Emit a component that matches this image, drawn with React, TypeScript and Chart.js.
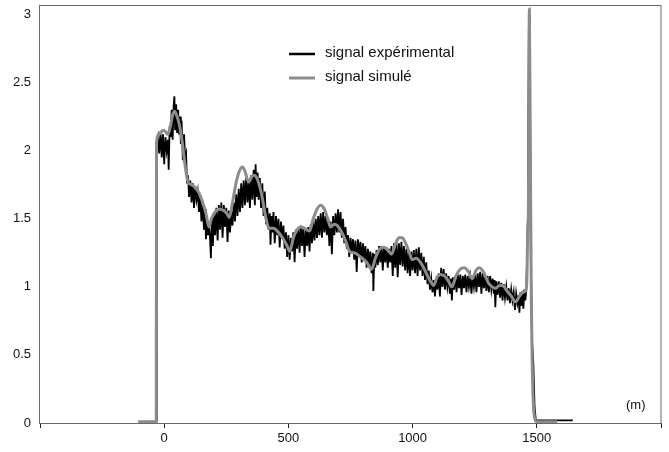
import React, { useEffect, useRef } from "react";
import { Chart, registerables } from "chart.js";

Chart.register(...registerables);

const xTicks = [-500, 0, 500, 1000, 1500, 2000];
const xLabeled = [0, 500, 1000, 1500];
const yTicks = [0, 0.5, 1, 1.5, 2, 2.5, 3];
const seriesNames = ["signal expérimental", "signal simulé"];
const unitLabel = "(m)";

// experimental signal (noisy), [distance m, value]
const expSignal: [number, number][] = [
  [-40, 0.0], [-32, 0.02], [-30, 2.05], [-25, 2.1], [-20, 1.98], [-15, 2.14], [-10, 1.95], [-5, 2.12],
  [0, 1.9], [5, 2.1], [10, 2.0], [15, 2.08], [18, 1.86], [22, 2.18], [26, 2.1], [30, 2.3],
  [34, 2.08], [38, 2.33], [41, 2.4], [44, 2.15], [48, 2.34], [52, 2.13], [56, 2.3], [60, 2.12],
  [64, 2.25], [67, 2.05], [70, 2.22], [75, 1.93], [80, 2.12], [84, 1.95], [88, 1.98], [92, 1.76],
  [96, 1.82], [100, 1.66], [105, 1.78], [110, 1.62], [115, 1.76], [120, 1.58], [125, 1.74], [130, 1.64],
  [135, 1.7], [140, 1.55], [145, 1.66], [150, 1.48], [155, 1.62], [160, 1.42], [165, 1.57], [168, 1.35],
  [172, 1.5], [176, 1.38], [180, 1.46], [185, 1.34], [188, 1.21], [192, 1.5], [196, 1.3], [200, 1.55],
  [205, 1.38], [210, 1.58], [215, 1.34], [220, 1.6], [225, 1.42], [230, 1.62], [235, 1.36], [240, 1.6],
  [245, 1.44], [250, 1.58], [255, 1.33], [260, 1.56], [265, 1.4], [270, 1.56], [275, 1.45], [280, 1.62],
  [285, 1.48], [290, 1.68], [295, 1.52], [300, 1.72], [305, 1.55], [310, 1.76], [315, 1.58], [320, 1.78],
  [325, 1.6], [330, 1.8], [335, 1.62], [340, 1.78], [345, 1.58], [350, 1.82], [355, 1.64], [360, 1.86],
  [365, 1.6], [368, 1.9], [372, 1.66], [376, 1.84], [380, 1.64], [385, 1.8], [390, 1.58], [395, 1.76],
  [400, 1.52], [405, 1.7], [410, 1.46], [415, 1.58], [420, 1.42], [425, 1.54], [428, 1.31], [432, 1.52],
  [436, 1.4], [440, 1.55], [445, 1.32], [450, 1.52], [455, 1.38], [460, 1.5], [465, 1.29], [470, 1.48],
  [475, 1.36], [480, 1.45], [485, 1.28], [490, 1.4], [495, 1.22], [500, 1.38], [505, 1.2], [510, 1.36],
  [515, 1.26], [520, 1.4], [525, 1.18], [530, 1.42], [535, 1.28], [540, 1.44], [545, 1.25], [550, 1.45],
  [555, 1.3], [560, 1.44], [565, 1.22], [570, 1.42], [575, 1.3], [580, 1.44], [585, 1.26], [590, 1.46],
  [595, 1.32], [600, 1.48], [605, 1.34], [610, 1.5], [615, 1.36], [620, 1.52], [625, 1.38], [630, 1.54],
  [635, 1.36], [640, 1.55], [645, 1.4], [650, 1.52], [655, 1.38], [660, 1.5], [665, 1.3], [670, 1.48],
  [675, 1.24], [680, 1.52], [685, 1.38], [690, 1.54], [695, 1.4], [700, 1.57], [705, 1.4], [710, 1.55],
  [715, 1.36], [720, 1.5], [725, 1.32], [730, 1.44], [735, 1.28], [740, 1.38], [745, 1.22], [750, 1.36],
  [755, 1.25], [760, 1.35], [765, 1.2], [770, 1.34], [775, 1.11], [780, 1.35], [785, 1.22], [790, 1.33],
  [795, 1.18], [800, 1.32], [805, 1.2], [810, 1.3], [815, 1.14], [820, 1.28], [825, 1.16], [830, 1.26],
  [835, 1.1], [840, 1.25], [842, 0.97], [846, 1.24], [850, 1.14], [855, 1.27], [860, 1.16], [865, 1.3],
  [870, 1.18], [875, 1.3], [880, 1.12], [885, 1.3], [890, 1.18], [895, 1.29], [900, 1.14], [905, 1.28],
  [910, 1.18], [915, 1.3], [920, 1.08], [925, 1.32], [930, 1.14], [935, 1.33], [940, 1.07], [945, 1.32],
  [950, 1.16], [955, 1.33], [960, 1.15], [965, 1.3], [970, 1.12], [975, 1.28], [980, 1.1], [985, 1.27],
  [990, 1.08], [995, 1.26], [1000, 1.12], [1005, 1.27], [1010, 1.1], [1015, 1.28], [1020, 1.08], [1025, 1.29],
  [1030, 1.12], [1035, 1.25], [1040, 1.08], [1045, 1.22], [1050, 1.05], [1055, 1.18], [1060, 1.02], [1065, 1.12],
  [1070, 0.98], [1075, 1.06], [1080, 0.96], [1085, 1.05], [1090, 0.93], [1095, 1.06], [1100, 0.98], [1105, 1.1],
  [1110, 0.93], [1115, 1.14], [1120, 1.0], [1125, 1.13], [1130, 0.98], [1135, 1.1], [1140, 1.0], [1145, 1.08],
  [1150, 0.95], [1155, 1.06], [1158, 0.9], [1162, 1.07], [1167, 0.98], [1172, 1.08], [1177, 0.96], [1182, 1.09],
  [1187, 0.99], [1192, 1.09], [1197, 0.94], [1202, 1.08], [1207, 0.99], [1212, 1.09], [1217, 0.96], [1222, 1.08],
  [1227, 1.0], [1232, 1.07], [1237, 0.95], [1242, 1.08], [1247, 1.0], [1252, 1.09], [1257, 0.96], [1262, 1.1],
  [1267, 1.0], [1272, 1.11], [1277, 0.95], [1282, 1.1], [1287, 0.99], [1292, 1.09], [1297, 0.97], [1302, 1.08],
  [1307, 0.96], [1312, 1.08], [1317, 0.98], [1322, 1.06], [1327, 0.95], [1330, 1.05], [1333, 0.85], [1337, 1.04],
  [1342, 0.94], [1347, 1.04], [1352, 0.92], [1357, 1.03], [1362, 0.9], [1367, 1.02], [1372, 0.92], [1377, 1.0],
  [1382, 0.9], [1387, 0.99], [1392, 0.88], [1397, 0.98], [1402, 0.9], [1407, 0.96], [1412, 0.83], [1417, 0.95],
  [1422, 0.88], [1427, 0.94], [1430, 0.81], [1434, 0.96], [1438, 0.86], [1442, 0.97], [1446, 0.84], [1450, 0.98],
  [1454, 0.9], [1458, 0.99], [1464, 1.5], [1468, 2.9], [1471, 3.0], [1476, 1.2], [1481, 0.6], [1486, 0.44],
  [1491, 0.12], [1496, 0.02], [1645, 0.02],
];

// simulated signal (smooth), [distance m, value]
const simSignal: [number, number][] = [
  [-105, 0.01], [-32, 0.01], [-31, 2.06], [-20, 2.12], [-5, 2.15], [5, 2.14], [15, 2.12], [25, 2.18],
  [35, 2.27], [42, 2.29], [50, 2.26], [60, 2.2], [72, 2.07], [85, 1.88], [96, 1.77], [110, 1.75],
  [125, 1.73], [140, 1.69], [155, 1.62], [168, 1.54], [180, 1.44], [190, 1.5], [205, 1.55], [220, 1.57],
  [240, 1.56], [255, 1.53], [262, 1.51], [275, 1.62], [290, 1.77], [305, 1.86], [315, 1.88], [325, 1.85],
  [340, 1.77], [352, 1.81], [362, 1.82], [375, 1.79], [392, 1.68], [410, 1.5], [422, 1.43], [440, 1.43],
  [460, 1.4], [480, 1.35], [495, 1.3], [505, 1.26], [520, 1.36], [535, 1.42], [550, 1.44], [565, 1.43],
  [585, 1.41], [600, 1.5], [615, 1.57], [630, 1.6], [645, 1.57], [660, 1.49], [670, 1.44], [685, 1.46],
  [697, 1.45], [712, 1.41], [730, 1.34], [746, 1.26], [765, 1.25], [790, 1.22], [815, 1.18], [835, 1.13],
  [850, 1.21], [868, 1.28], [884, 1.29], [900, 1.27], [915, 1.24], [930, 1.31], [945, 1.36], [958, 1.36],
  [972, 1.32], [987, 1.25], [998, 1.2], [1015, 1.21], [1035, 1.17], [1055, 1.1], [1072, 1.04], [1085, 1.01],
  [1098, 1.07], [1112, 1.09], [1128, 1.08], [1145, 1.04], [1158, 1.0], [1175, 1.08], [1192, 1.13], [1208, 1.14],
  [1225, 1.11], [1240, 1.06], [1255, 1.12], [1268, 1.14], [1285, 1.11], [1305, 1.03], [1320, 1.0], [1335, 0.99],
  [1350, 1.01], [1362, 1.01], [1380, 0.97], [1398, 0.93], [1414, 0.89], [1430, 0.93], [1445, 0.96], [1455, 0.97],
  [1460, 1.05], [1464, 1.45], [1466, 1.5], [1468, 2.4], [1470, 3.04], [1474, 2.0], [1478, 0.9], [1482, 0.4],
  [1486, 0.15], [1492, 0.03], [1500, 0.01], [1582, 0.01],
];

const FONT = "'Liberation Sans', Arial, sans-serif";

export default function App() {
  const ref = useRef<HTMLCanvasElement | null>(null);

  useEffect(() => {
    if (!ref.current) return;
    const overlay = {
      id: "overlay",
      afterDatasetsDraw(chart: any) {
        const { ctx, chartArea: a } = chart;
        ctx.save();
        ctx.strokeStyle = "#6a6a6a";
        ctx.lineWidth = 1;
        ctx.strokeRect(a.left - 0.5, a.top + 0.5, a.right - a.left + 0.5, a.bottom - a.top);
        // legend
        const ds = chart.data.datasets;
        const rows = [54, 78];
        ds.forEach((d: any, i: number) => {
          ctx.strokeStyle = d.borderColor;
          ctx.lineWidth = i === 0 ? 2.5 : 3;
          ctx.beginPath();
          ctx.moveTo(289, rows[i]);
          ctx.lineTo(315, rows[i]);
          ctx.stroke();
          ctx.fillStyle = "#111";
          ctx.font = `15px ${FONT}`;
          ctx.textBaseline = "middle";
          ctx.textAlign = "left";
          ctx.fillText(d.label, 325, rows[i] - 1);
        });
        ctx.font = `13px ${FONT}`;
        ctx.fillStyle = "#111";
        ctx.textAlign = "left";
        ctx.textBaseline = "middle";
        ctx.fillText(unitLabel, 626, 405);
        ctx.restore();
      },
    };

    const chart = new Chart(ref.current, {
      type: "line",
      data: {
        datasets: [
          {
            label: seriesNames[0],
            data: expSignal.map(([x, y]) => ({ x, y })),
            borderColor: "#000000",
            borderWidth: 1.8,
            pointRadius: 0,
            tension: 0,
            order: 1,
          },
          {
            label: seriesNames[1],
            data: simSignal.map(([x, y]) => ({ x, y })),
            borderColor: "#8c8c8c",
            borderWidth: 3,
            pointRadius: 0,
            cubicInterpolationMode: "monotone",
            order: 0,
          },
        ],
      },
      options: {
        animation: false,
        responsive: true,
        maintainAspectRatio: false,
        layout: { padding: { left: 0, right: 8, top: 5, bottom: 0 } },
        plugins: { legend: { display: false }, tooltip: { enabled: false } },
        scales: {
          x: {
            type: "linear",
            min: -500,
            max: 2000,
            afterBuildTicks: (s: any) => {
              s.ticks = xTicks.map((v) => ({ value: v }));
            },
            afterFit: (s: any) => {
              s.height = 29;
              s.paddingLeft = 0;
              s.paddingRight = 0;
            },
            border: { display: false },
            grid: { display: true, drawOnChartArea: false, drawTicks: true, tickLength: 5, color: "#222" },
            ticks: {
              color: "#111",
              font: { family: FONT, size: 13 },
              padding: 3,
              maxRotation: 0,
              autoSkip: false,
              callback: (v: any) => (xLabeled.includes(Number(v)) ? String(v) : ""),
            },
          },
          y: {
            type: "linear",
            min: 0,
            max: 3.07,
            afterBuildTicks: (s: any) => {
              s.ticks = yTicks.map((v) => ({ value: v }));
            },
            afterFit: (s: any) => {
              s.width = 40;
              s.paddingTop = 0;
              s.paddingBottom = 0;
            },
            border: { display: false },
            grid: { display: false, drawTicks: false },
            ticks: {
              color: "#111",
              font: { family: FONT, size: 13 },
              padding: 9,
              callback: (v: any) => String(v),
            },
          },
        },
      },
      plugins: [overlay],
    } as any);
    return () => chart.destroy();
  }, []);

  return (
    <div style={{ position: "absolute", left: 0, top: 0, width: 669, height: 452, background: "#fff" }}>
      <canvas ref={ref} />
    </div>
  );
}
